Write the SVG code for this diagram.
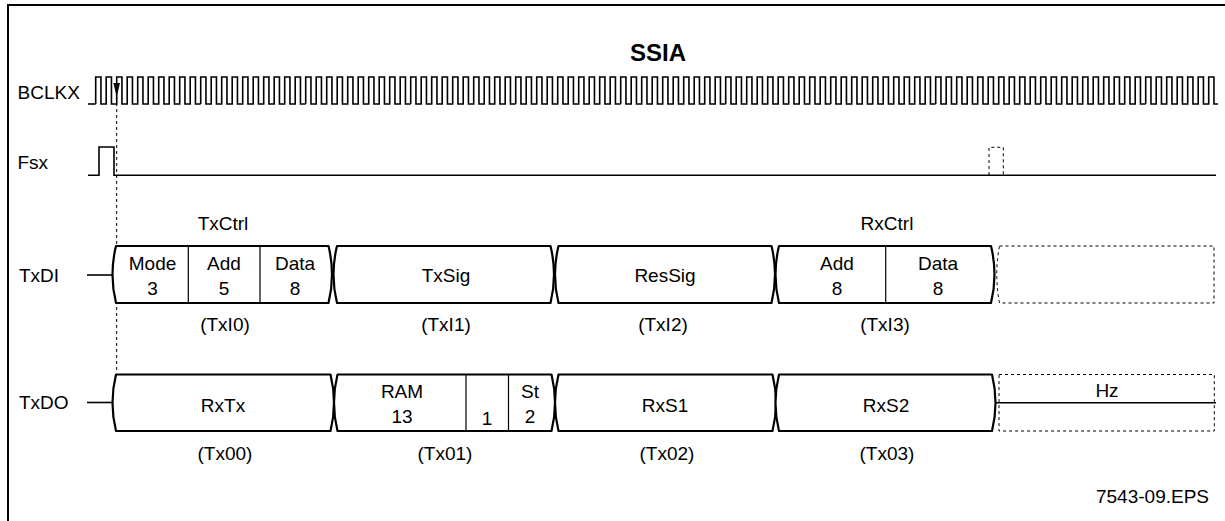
<svg xmlns="http://www.w3.org/2000/svg" xmlns:xlink="http://www.w3.org/1999/xlink" width="1225" height="521" viewBox="0 0 1225 521">
<style>
.t{font-family:"Liberation Sans",Arial,sans-serif;font-size:19px;fill:#000;text-anchor:middle}
.l{font-family:"Liberation Sans",Arial,sans-serif;font-size:19px;fill:#000}
.b{font-family:"Liberation Sans",Arial,sans-serif;font-size:24px;font-weight:bold;fill:#000;text-anchor:middle}
.w{fill:none;stroke:#000;stroke-width:1.6}
.box{fill:#fff;stroke:#000;stroke-width:2.2;stroke-linejoin:round}
.div{fill:none;stroke:#000;stroke-width:1.2}
.dash{fill:none;stroke:#000;stroke-width:1;stroke-dasharray:3 3}
</style>
<defs>
<path id="clk10" class="w" d="M0,0v-27h5.25v27h5.25v-27h5.25v27h5.25v-27h5.25v27h5.25v-27h5.25v27h5.25v-27h5.25v27h5.25v-27h5.25v27h5.25v-27h5.25v27h5.25v-27h5.25v27h5.25v-27h5.25v27h5.25v-27h5.25v27h5.25"/>
<path id="clk7" class="w" d="M0,0v-27h5.25v27h5.25v-27h5.25v27h5.25v-27h5.25v27h5.25v-27h5.25v27h5.25v-27h5.25v27h5.25v-27h5.25v27h5.25v-27h5.25v27h4"/>
</defs>
<rect width="1225" height="521" fill="#fff"/>
<path d="M8,521V5H1225" fill="none" stroke="#000" stroke-width="2"/>
<text class="b" x="658" y="61">SSIA</text>

<g id="bclkx">
<text class="l" x="17.5" y="98.5">BCLKX</text>
<path class="w" d="M88,104H95.7"/>
<use xlink:href="#clk10" x="95.7" y="104"/>
<use xlink:href="#clk10" x="200.7" y="104"/>
<use xlink:href="#clk10" x="305.7" y="104"/>
<use xlink:href="#clk10" x="410.7" y="104"/>
<use xlink:href="#clk10" x="515.7" y="104"/>
<use xlink:href="#clk10" x="620.7" y="104"/>
<use xlink:href="#clk10" x="725.7" y="104"/>
<use xlink:href="#clk10" x="830.7" y="104"/>
<use xlink:href="#clk10" x="935.7" y="104"/>
<use xlink:href="#clk10" x="1040.7" y="104"/>
<use xlink:href="#clk7" x="1145.7" y="104"/>
</g>

<g id="fsx">
<text class="l" x="17.5" y="169">Fsx</text>
<path class="w" d="M88,175.3H99V147H114V175.3H1216"/>
<path class="dash" d="M989,175V147.3H1003.3V175"/>
</g>

<g id="connectors">
<path class="dash" d="M116.7,97V372"/>
<polygon points="113.4,83 120,83 116.7,97" fill="#000"/>
<path class="w" d="M87,275H113"/>
<path class="w" d="M87,402.5H113"/>
<path class="w" d="M995,402.7H1216"/>
</g>

<g id="txdi">
<text class="l" x="19" y="282">TxDI</text>
<text class="t" x="223" y="230">TxCtrl</text>
<text class="t" x="887" y="230">RxCtrl</text>
</g>

<g id="txi0">
<path class="box" d="M116,246H328.5Q335.5,274.5 328.5,303H116Q109,274.5 116,246Z"/>
<path class="div" d="M188.3,246V303M260,246V303"/>
<text class="t" x="152.5" y="269.5">Mode</text><text class="t" x="152.5" y="295">3</text>
<text class="t" x="224" y="269.5">Add</text><text class="t" x="224" y="295">5</text>
<text class="t" x="295" y="269.5">Data</text><text class="t" x="295" y="295">8</text>
<text class="t" x="225" y="331">(TxI0)</text>
</g>

<g id="txi1">
<path class="box" d="M337,246H550.5Q557.5,274.5 550.5,303H337Q330,274.5 337,246Z"/>
<text class="t" x="446" y="282">TxSig</text>
<text class="t" x="446" y="331">(TxI1)</text>
</g>

<g id="txi2">
<path class="box" d="M558.5,246H771.5Q778.5,274.5 771.5,303H558.5Q551.5,274.5 558.5,246Z"/>
<text class="t" x="665" y="282">ResSig</text>
<text class="t" x="663" y="331">(TxI2)</text>
</g>

<g id="txi3">
<path class="box" d="M779,246H991Q998,274.5 991,303H779Q772,274.5 779,246Z"/>
<path class="div" d="M885.7,246V303"/>
<text class="t" x="837" y="269.5">Add</text><text class="t" x="837" y="295">8</text>
<text class="t" x="938" y="269.5">Data</text><text class="t" x="938" y="295">8</text>
<text class="t" x="885" y="331">(TxI3)</text>
</g>

<g id="txi-next">
<path class="dash" d="M999.5,246H1214V303H999.5Q994,274.5 999.5,246Z"/>
</g>

<g id="txdo">
<text class="l" x="19" y="409">TxDO</text>
</g>

<g id="tx00">
<path class="box" d="M116,374.5H330.5Q337.5,402.7 330.5,431H116Q109,402.7 116,374.5Z"/>
<text class="t" x="223" y="411.5">RxTx</text>
<text class="t" x="225" y="460">(Tx00)</text>
</g>

<g id="tx01">
<path class="box" d="M337.5,374.5H551.5Q558.5,402.7 551.5,431H337.5Q330.5,402.7 337.5,374.5Z"/>
<path class="div" d="M466,374.5V431M508.5,374.5V431"/>
<text class="t" x="402" y="398">RAM</text><text class="t" x="402" y="423">13</text>
<text class="t" x="487" y="425">1</text>
<text class="t" x="530" y="397.5">St</text><text class="t" x="530" y="423">2</text>
<text class="t" x="445" y="460">(Tx01)</text>
</g>

<g id="tx02">
<path class="box" d="M558.5,374.5H772.5Q779.5,402.7 772.5,431H558.5Q551.5,402.7 558.5,374.5Z"/>
<text class="t" x="665" y="411.5">RxS1</text>
<text class="t" x="667" y="460">(Tx02)</text>
</g>

<g id="tx03">
<path class="box" d="M779,374.5H992Q999,402.7 992,431H779Q772,402.7 779,374.5Z"/>
<text class="t" x="886" y="411.5">RxS2</text>
<text class="t" x="887" y="460">(Tx03)</text>
</g>

<g id="hz">
<path class="dash" d="M999,374.5H1214.3V431H999Z"/>
<text class="t" x="1107" y="396.5">Hz</text>
</g>

<text class="l" x="1209" y="503" text-anchor="end">7543-09.EPS</text>
</svg>
